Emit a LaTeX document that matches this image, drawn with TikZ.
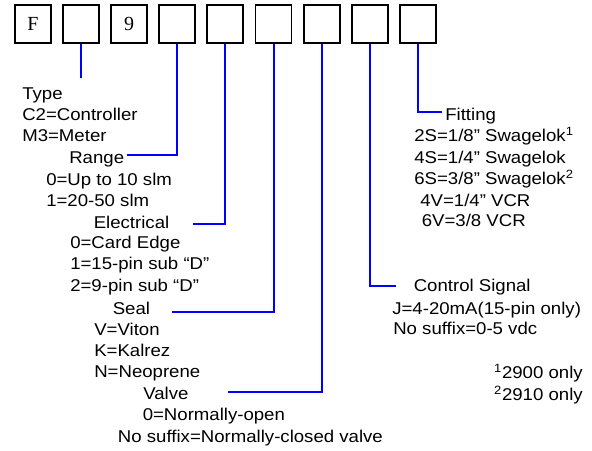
\documentclass[tikz,border=0pt]{standalone}
\usepackage{fontspec}
\setmainfont{Liberation Sans}
\newfontfamily\boxfont{Liberation Serif}
\usetikzlibrary{positioning}

\tikzset{
  codebox/.style={draw=black, line width=1.4pt, minimum width=27pt, minimum height=28.5pt, inner sep=0pt, font=\boxfont\fontsize{15}{17}\selectfont},
  wire/.style={draw=blue, line width=1.5pt},
  lbl/.style={anchor=base west, inner sep=0pt, font=\fontsize{12.8}{14}\selectfont, xscale=1.09},
  note/.style={lbl, anchor=base east},
}

\begin{document}
\begin{tikzpicture}[x=0.75pt, y=-0.75pt]
\useasboundingbox (0,0) rectangle (592,450);

% code boxes
\foreach \i/\t in {1/F,2/,3/9,4/,5/,6/,7/,8/,9/}
  \node[codebox] (b\i) at ({33+48.1*(\i-1)},24) {\t};

% left column
\node[lbl] (type)   at (22,99.5)  {Type};
\node[lbl] (typec)  at (22,120.5) {C2=Controller};
\node[lbl] (typem)  at (22,141.5) {M3=Meter};
\node[lbl] (rng)    at (69,163.3) {Range};
\node[lbl] (rnga)   at (46,185)   {0=Up to 10 slm};
\node[lbl] (rngb)   at (46,206)   {1=20-50 slm};
\node[lbl] (elec)   at (93.5,228.3) {Electrical};
\node[lbl] (eleca)  at (70,248.3) {0=Card Edge};
\node[lbl] (elecb)  at (70,269.3) {1=15-pin sub “D”};
\node[lbl] (elecc)  at (70,291.7) {2=9-pin sub “D”};
\node[lbl] (seal)   at (112.5,314) {Seal};
\node[lbl] (seala)  at (94,335)   {V=Viton};
\node[lbl] (sealb)  at (94,356.7) {K=Kalrez};
\node[lbl] (sealc)  at (94,377.3) {N=Neoprene};
\node[lbl] (valve)  at (143,399.3) {Valve};
\node[lbl] (valvea) at (142.5,420.7) {0=Normally-open};
\node[lbl] (valveb) at (117.7,442.7) {No suffix=Normally-closed valve};

% right column
\node[lbl] (fit)    at (445,120.7) {Fitting};
\node[lbl] (fita)   at (414,141.7) {2S=1/8” Swagelok\textsuperscript{1}};
\node[lbl] (fitb)   at (414,163.3) {4S=1/4” Swagelok};
\node[lbl] (fitc)   at (414,184)   {6S=3/8” Swagelok\textsuperscript{2}};
\node[lbl] (fitd)   at (420,206)   {4V=1/4” VCR};
\node[lbl] (fite)   at (421.5,226.7) {6V=3/8 VCR};
\node[lbl] (ctl)    at (413.5,291.7) {Control Signal};
\node[lbl] (ctla)   at (392,314)   {J=4-20mA(15-pin only)};
\node[lbl] (ctlb)   at (393,334)   {No suffix=0-5 vdc};
\node[note] (notea) at (583,378.3) {\textsuperscript{1}2900 only};
\node[note] (noteb) at (583,400)   {\textsuperscript{2}2910 only};

% leader ends
\coordinate (typeend)  at (b2.south |- 0,78);
\coordinate (rngend)   at (127,155);
\coordinate (elecend)  at (193,224);
\coordinate (sealend)  at (172,312);
\coordinate (valveend) at (228,392);
\coordinate (ctlend)   at (396,286);
\coordinate (fitend)   at (442,112);

% leaders
\draw[wire] (b2.south) -- (typeend);
\draw[wire] (b4.south) |- (rngend);
\draw[wire] (b5.south) |- (elecend);
\draw[wire] (b6.south) |- (sealend);
\draw[wire] (b7.south) |- (valveend);
\draw[wire] (b8.south) |- (ctlend);
\draw[wire] (b9.south) |- (fitend);
\end{tikzpicture}
\end{document}
